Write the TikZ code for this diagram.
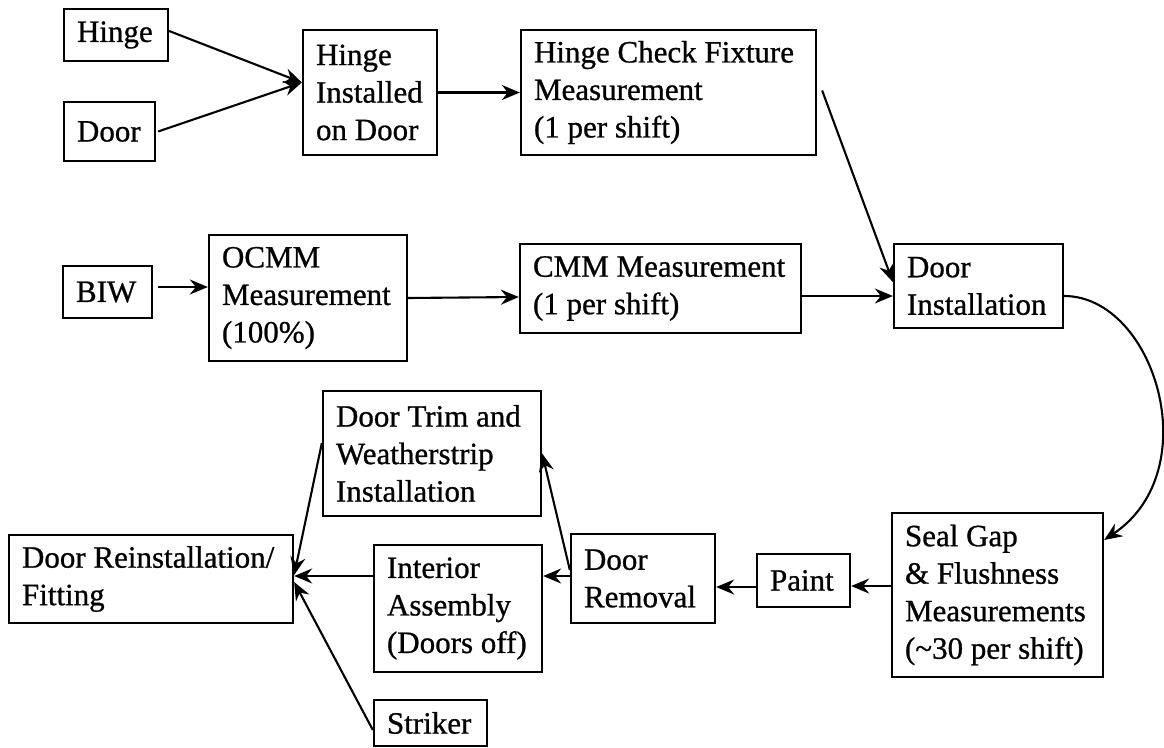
\documentclass[tikz,border=0pt]{standalone}
\usepackage{fontspec}
\setmainfont{Liberation Serif}[FakeBold=0.8]
\usetikzlibrary{arrows.meta}
\begin{document}
\begin{tikzpicture}[x=1pt,y=-1pt,
  box/.style={draw, line width=2.3pt, inner xsep=13pt, inner ysep=0pt, align=flush left,
    font=\fontsize{31}{37.5}\selectfont},
  arr/.style={line width=2.1pt, -{Stealth[length=18pt,width=15pt,inset=6pt]}}]
\useasboundingbox (0,0) rectangle (1164,747);
% top row
\node[box, text width=78pt, minimum height=52pt] (hinge) at (116,35) {Hinge};
\node[box, text width=65pt, minimum height=59pt] (door) at (109.5,131.5) {Door};
\node[box, text width=108pt, minimum height=125pt] (hi) at (370,92.5) {Hinge\\Installed\\on Door};
\node[box, text width=269pt, minimum height=125pt] (hcf) at (668.5,92.5) {Hinge Check Fixture\\Measurement\\(1 per shift)};
% middle row
\node[box, text width=63pt, minimum height=52pt] (biw) at (107.5,292) {BIW};
\node[box, text width=172pt, minimum height=126pt] (ocmm) at (308,298) {OCMM\\Measurement\\(100\%)};
\node[box, text width=255pt, minimum height=89pt] (cmm) at (660.5,288.5) {CMM~Measurement\\(1 per shift)};
\node[box, text width=143pt, minimum height=84pt] (di) at (978.5,286) {Door\\Installation};
% bottom rows
\node[box, text width=192pt, minimum height=125pt] (trim) at (432,453.5) {Door Trim and\\Weatherstrip\\Installation};
\node[box, text width=258pt, minimum height=88pt] (reinst) at (151,579) {Door~Reinstallation/\\Fitting};
\node[box, text width=142pt, minimum height=127pt] (interior) at (458,608.5) {Interior\\Assembly\\(Doors~off)};
\node[box, text width=87pt, minimum height=46pt] (striker) at (430.5,723) {Striker};
\node[box, text width=118pt, minimum height=89pt] (removal) at (643,578.5) {Door\\Removal};
\node[box, text width=67pt, minimum height=53pt] (paint) at (803.5,580.5) {Paint};
\node[box, text width=185pt, minimum height=164pt] (seal) at (997.5,595) {Seal Gap\\\&~Flushness\\Measurements\\(\textasciitilde30~per~shift)};
% connectors
\draw[arr] ([yshift=4pt]hinge.east) -- ([yshift=10pt]hi.west);
\draw[arr] ([xshift=2pt]door.east) -- ([yshift=10pt]hi.west);
\draw[arr] (hi.east) -- (hcf.west);
\draw[arr] ([xshift=5pt,yshift=2pt]hcf.east) -- ([yshift=4pt]di.west);
\draw[arr] ([xshift=5pt,yshift=5pt]biw.east) -- ([yshift=11pt]ocmm.west);
\draw[arr] (ocmm.east) -- ([yshift=-8.5pt]cmm.west);
\draw[arr] ([yshift=-7.5pt]cmm.east) -- ([yshift=-10pt]di.west);
\draw[arr] ([yshift=-10pt]di.east) .. controls +(90,0) and +(104,-70) .. ([yshift=55pt]seal.east);
\draw[arr] ([yshift=9pt]seal.west) -- ([yshift=-5.5pt]paint.east);
\draw[arr] ([yshift=-6.5pt]paint.west) -- ([yshift=-8.5pt]removal.east);
\draw[arr] ([yshift=2.5pt]removal.west) -- ([yshift=32.5pt]interior.east);
\draw[arr] ([yshift=8.5pt]removal.west) -- (trim.east);
\draw[arr] ([yshift=32.5pt]interior.west) -- ([yshift=3pt]reinst.east);
\draw[arr] ([yshift=10.5pt]trim.west) -- ([yshift=4pt]reinst.east);
\draw[arr] ([yshift=-7pt]striker.west) -- ([yshift=-3pt]reinst.east);
\end{tikzpicture}
\end{document}
